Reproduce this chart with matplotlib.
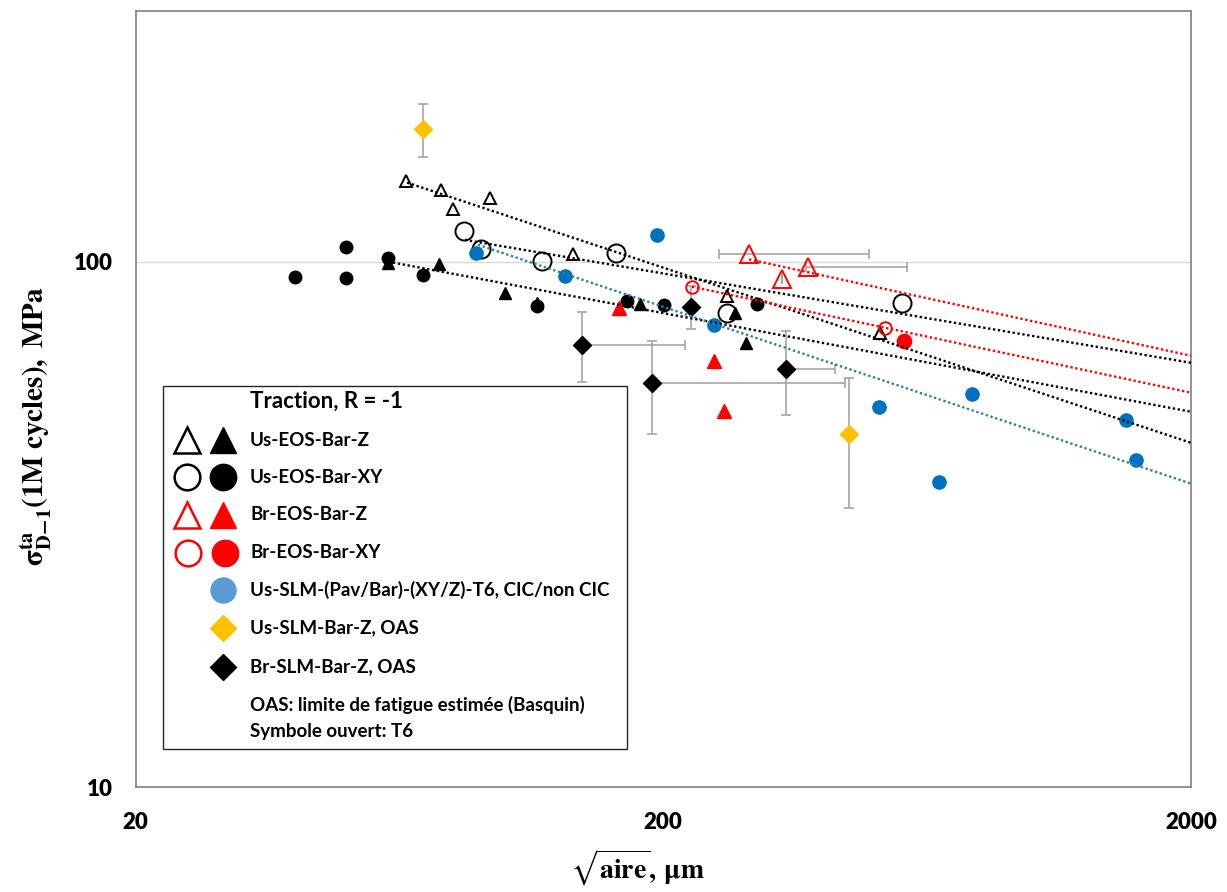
import matplotlib
matplotlib.use("Agg")
import matplotlib.pyplot as plt
from matplotlib.lines import Line2D
from matplotlib.patches import Rectangle
import numpy as np

plt.rcParams['mathtext.fontset'] = 'stix'

# ---------------- data ----------------
us_eos_z_t6_x = [65.1, 75.9, 79.9, 93.9, 134.9, 264, 515]
us_eos_z_t6_y = [142.6, 136.6, 126, 132, 103.6, 86, 73]

us_eos_z_x = [60.2, 75.2, 100.3, 115.3, 180.6, 273.6, 287]
us_eos_z_y = [99.6, 99, 87.3, 83.5, 83.2, 80, 70]

us_eos_xy_t6_x = [83.9, 90.3, 117.8, 162.8, 264, 567]
us_eos_xy_t6_y = [114.6, 105.9, 100.4, 104, 80, 83.5]

us_eos_xy_x = [40.1, 50.1, 50.1, 60.2, 70.1, 115.3, 170.7, 200.7, 301]
us_eos_xy_y = [93.6, 106.8, 93.2, 101.8, 94.5, 82.5, 84.3, 82.8, 83.2]

br_eos_z_t6_x = [290.8, 335.8, 376]
br_eos_z_t6_y = [103.5, 92.8, 97.8]
br_eos_z_t6_xerr_lo = [36, 0, 3]
br_eos_z_t6_xerr_hi = [200, 0, 203]

br_eos_z_x = [164.9, 249.6, 260.6]
br_eos_z_y = [81.7, 64.8, 52]

br_eos_xy_t6_x = [226.8, 526]
br_eos_xy_t6_y = [89.6, 74.8]

br_eos_xy_x = [571.8]
br_eos_xy_y = [70.7]

slm_x = [88.3, 130.3, 194.6, 249.6, 512.6, 666, 769, 1506, 1573]
slm_y = [104, 94, 112.6, 75.9, 53, 38, 56, 50, 42]

oas_us_x = [70.1, 449.8]
oas_us_y = [179, 47]
oas_us_yerr = [21, 13]

oas_br_x = [140.3, 190.4, 225.8, 341.7]
oas_br_y = [69.5, 58.8, 82.1, 62.5]
oas_br_yerr = [10.6, 11.8, 7.8, 11.4]
oas_br_xerr_lo = [0, 0, 0, 0]
oas_br_xerr_hi = [80, 252, 0, 81]

# trend lines (power law, start / end points)
trend_us_z_t6_x = [65.4, 2000]
trend_us_z_t6_y = [141.4, 45.2]
trend_us_xy_t6_x = [84.2, 2000]
trend_us_xy_t6_y = [110, 64.2]
trend_us_z_x = [60.2, 2000]
trend_us_z_y = [100, 51.8]
trend_slm_x = [89.1, 2000]
trend_slm_y = [107.7, 37.8]
trend_br_z_t6_x = [290.8, 2000]
trend_br_z_t6_y = [101, 66.2]
trend_br_xy_t6_x = [226.8, 2000]
trend_br_xy_t6_y = [89.6, 56.3]

x_ticks = [20, 200, 2000]
y_ticks = [10, 100]

legend_title = "Traction, R = -1"
legend_labels = ["Us-EOS-Bar-Z", "Us-EOS-Bar-XY", "Br-EOS-Bar-Z", "Br-EOS-Bar-XY",
                 "Us-SLM-(Pav/Bar)-(XY/Z)-T6, CIC/non CIC", "Us-SLM-Bar-Z, OAS",
                 "Br-SLM-Bar-Z, OAS"]
legend_notes = ["OAS: limite de fatigue estimée (Basquin)", "Symbole ouvert: T6"]

# ---------------- figure ----------------
W, H = 1227, 892
fig = plt.figure(figsize=(W / 100, H / 100), dpi=100)
ax = fig.add_axes([135.5 / W, 1 - 787 / H, (1191 - 135.5) / W, (787 - 11) / H])
ax.set_xscale('log')
ax.set_yscale('log')
ax.set_xlim(20, 2000)
ax.set_ylim(10, 300)

BLACK = '#000000'
RED = '#FF0000'
BLUE = '#0070C0'
BLUE_LEG = '#5B9BD5'
YEL = '#FFC000'
GRAY = '#A6A6A6'
TEAL = '#31809E'

ax.axhline(100, color='#D9D9D9', lw=1.0, zorder=0)

# error bars
eb = dict(fmt='none', ecolor=GRAY, elinewidth=1.2, capsize=3.3, capthick=1.2, zorder=1)
ax.errorbar(br_eos_z_t6_x, br_eos_z_t6_y, xerr=[br_eos_z_t6_xerr_lo, br_eos_z_t6_xerr_hi], **eb)
ax.errorbar(oas_us_x, oas_us_y, yerr=oas_us_yerr, **eb)
ax.errorbar(oas_br_x, oas_br_y, yerr=oas_br_yerr, xerr=[oas_br_xerr_lo, oas_br_xerr_hi], **eb)

# markers
ax.plot(us_eos_xy_x, us_eos_xy_y, 'o', ms=9, color=BLACK, mec=BLACK, zorder=3)
ax.plot(us_eos_z_x, us_eos_z_y, '^', ms=8.5, color=BLACK, mec=BLACK, zorder=3)
ax.plot(us_eos_z_t6_x, us_eos_z_t6_y, '^', ms=9, mfc='none', mec=BLACK, mew=1.4, zorder=3)
ax.plot(us_eos_xy_t6_x, us_eos_xy_t6_y, 'o', ms=13, mfc='none', mec=BLACK, mew=1.4, zorder=3)
ax.plot(br_eos_z_t6_x, br_eos_z_t6_y, '^', ms=13.5, mfc='none', mec=RED, mew=1.4, zorder=3)
ax.plot(br_eos_z_x, br_eos_z_y, '^', ms=9.5, color=RED, mec=RED, zorder=3)
ax.plot(br_eos_xy_t6_x, br_eos_xy_t6_y, 'o', ms=9, mfc='none', mec=RED, mew=1.4, zorder=3)
ax.plot(br_eos_xy_x, br_eos_xy_y, 'o', ms=10.3, color=RED, mec=RED, zorder=3)
ax.plot(slm_x, slm_y, 'o', ms=9.5, color=BLUE, mec=BLUE, zorder=3)
ax.plot(oas_us_x, oas_us_y, 'D', ms=9.5, color=YEL, mec=YEL, zorder=3)
ax.plot(oas_br_x, oas_br_y, 'D', ms=9.3, color=BLACK, mec=BLACK, zorder=3)

# trend lines
tl = dict(lw=1.7, ls=(0, (1, 1.1)), zorder=4, dash_capstyle='butt')
ax.plot(trend_us_z_t6_x, trend_us_z_t6_y, color=BLACK, **tl)
ax.plot(trend_us_xy_t6_x, trend_us_xy_t6_y, color=BLACK, **tl)
ax.plot(trend_us_z_x, trend_us_z_y, color=BLACK, **tl)
ax.plot(trend_slm_x, trend_slm_y, color=TEAL, **tl)
ax.plot(trend_br_z_t6_x, trend_br_z_t6_y, color=RED, **tl)
ax.plot(trend_br_xy_t6_x, trend_br_xy_t6_y, color=RED, **tl)

# axes styling
for s in ax.spines.values():
    s.set_color('#808080')
    s.set_linewidth(1.2)
ax.minorticks_off()
ax.set_xticks(x_ticks)
ax.set_xticklabels([str(v) for v in x_ticks])
ax.set_yticks(y_ticks)
ax.set_yticklabels([str(v) for v in y_ticks])
ax.tick_params(axis='both', length=0, labelsize=16)
ax.tick_params(axis='x', pad=18)
ax.tick_params(axis='y', pad=16)
for lab in ax.get_xticklabels() + ax.get_yticklabels():
    lab.set_fontfamily('Lato')
    lab.set_fontweight('heavy')

# axis labels
fig.text(36 / W, 1 - 426 / H,
         r'$\mathbf{\sigma}_{\mathbf{D{-}1}}^{\mathbf{ta}}\mathbf{(1M\ cycles),\ MPa}$',
         rotation=90, ha='center', va='center', fontsize=21)
fig.text(637 / W, 1 - 868 / H, r'$\sqrt{\mathbf{aire}}\mathbf{,\,\mu m}$',
         ha='center', va='center', fontsize=20)

# ---------------- legend ----------------
def P(x, y):
    return (x / W, 1 - y / H)

fig.add_artist(Rectangle(P(163, 749), (627 - 163) / W, (749 - 386) / H,
                         transform=fig.transFigure, fill=True, facecolor='white',
                         edgecolor='#262626', lw=1.0, zorder=5))

lf = dict(fontfamily='Lato', fontweight='bold', fontsize=13.5, va='center', ha='left', zorder=6)
fig.text(*P(250, 401), legend_title, **{**lf, 'fontsize': 16})
rows_y = [440, 477, 515, 553, 590, 628, 667]
for ty, lab in zip(rows_y, legend_labels):
    fig.text(*P(250, ty), lab, **lf)
fig.text(*P(250, 705), legend_notes[0], **lf)
fig.text(*P(250, 732), legend_notes[1], **lf)

def lm(x, y, **kw):
    fig.add_artist(Line2D([x / W], [1 - y / H], transform=fig.transFigure, zorder=6, **kw))

lm(187, rows_y[0], marker='^', ms=19, mfc='none', mec=BLACK, mew=1.8)
lm(223, rows_y[0], marker='^', ms=19, mfc=BLACK, mec=BLACK)
lm(187, rows_y[1], marker='o', ms=18.5, mfc='none', mec=BLACK, mew=1.8)
lm(223, rows_y[1], marker='o', ms=19, mfc=BLACK, mec=BLACK)
lm(187, rows_y[2], marker='^', ms=19, mfc='none', mec=RED, mew=1.8)
lm(223, rows_y[2], marker='^', ms=19, mfc=RED, mec=RED)
lm(188, rows_y[3], marker='o', ms=18.5, mfc='none', mec=RED, mew=1.8)
lm(225, rows_y[3], marker='o', ms=19, mfc=RED, mec=RED)
lm(223, rows_y[4], marker='o', ms=18, mfc=BLUE_LEG, mec=BLUE_LEG)
lm(223, rows_y[5], marker='D', ms=13.5, mfc=YEL, mec=YEL)
lm(223, rows_y[6], marker='D', ms=13.5, mfc=BLACK, mec=BLACK)

fig.savefig('out.png', dpi=100)
